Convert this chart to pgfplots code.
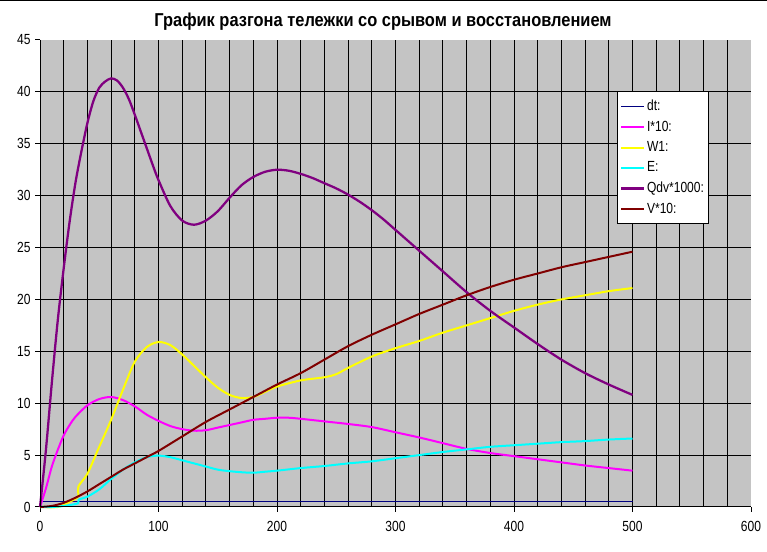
\documentclass[border=0pt]{standalone}
\usepackage{fontspec}
\setmainfont{Liberation Sans}
\newfontfamily\chartfont[FakeStretch=0.82]{Liberation Sans}
\newfontfamily\titlefont[FakeStretch=0.88]{Liberation Sans}
\usepackage{pgfplots}
\pgfplotsset{compat=1.18}
\definecolor{bg}{RGB}{196,196,196}
\definecolor{cdt}{RGB}{0,0,128}
\definecolor{ci}{RGB}{255,0,255}
\definecolor{cw}{RGB}{255,255,0}
\definecolor{ce}{RGB}{0,255,255}
\definecolor{cq}{RGB}{128,0,128}
\definecolor{cv}{RGB}{128,0,0}
\begin{document}
\begin{tikzpicture}
\useasboundingbox (0,0) rectangle (575.25pt,414pt);
\fill[black] (0,413pt) rectangle (575.25pt,414pt);
\node[font=\titlefont\bfseries\fontsize{14}{16}\selectfont] at (287.25pt,398pt) {График разгона тележки со срывом и восстановлением};
\begin{axis}[
  at={(30pt,33.75pt)}, anchor=south west,
  scale only axis, width=533.25pt, height=350.25pt,
  xmin=0, xmax=600, ymin=0, ymax=45,
  axis background/.style={fill=bg},
  axis line style={draw=none},
  xtick={0,100,...,600}, ytick={0,5,...,45},
  minor xtick={20,40,...,580}, minor ytick={5,10,...,40},
  minor grid style={black, line width=0.75pt},
  xminorgrids, yminorgrids,
  minor tick length=0pt,
  major tick length=3.5pt,
  tick align=outside,
  xtick pos=bottom, ytick pos=left,
  tick style={black, line width=0.75pt},
  ticklabel style={font=\chartfont\fontsize{11}{13}\selectfont},
  /pgf/number format/assume math mode=true,
  xticklabel style={yshift=-4pt},
  legend style={at={(0.8115,0.891)}, anchor=north west, draw=black, fill=white,
    line width=0.75pt,
    font=\chartfont\fontsize{11}{13}\selectfont,
    row sep=3.2pt, inner xsep=2pt, inner ysep=5pt,
    nodes={inner sep=1.5pt}},
  legend cell align=left,
  legend image code/.code={\draw[#1] (0pt,0pt) -- (17pt,0pt);},
  clip=false,
]
\addplot[cdt, line width=0.8pt] coordinates {(0,0.5) (500,0.5)};
\addlegendentry{dt:}
\addplot[ci, line width=1.5pt, smooth] coordinates {
(0,0) (5,1.8) (10,3.9) (15,5.5) (20,6.9) (25,7.9) (30,8.7) (40,9.8) (50,10.4) (60,10.6)
(70,10.3) (80,9.7) (90,8.9) (100,8.3) (110,7.8) (120,7.5) (130,7.35) (140,7.4) (150,7.65)
(160,7.9) (170,8.15) (180,8.4) (190,8.5) (200,8.6) (210,8.6) (220,8.5) (240,8.25) (260,8.0)
(280,7.7) (300,7.2) (320,6.7) (340,6.15) (360,5.6) (380,5.2) (400,4.9) (420,4.6) (440,4.3)
(460,4.0) (480,3.75) (500,3.5)};
\addlegendentry{I*10:}
\addplot[cw, line width=1.5pt, smooth] coordinates {
(0,0) (15,0) (25,0.5) (32,1.0) (32.5,2.0) (40,3.2) (50,5.8) (60,8.4) (70,11.3) (80,14.0)
(90,15.4) (100,15.9) (110,15.6) (120,14.7) (130,13.6) (140,12.5) (150,11.5) (160,10.8)
(170,10.5) (180,10.6) (190,11.1) (200,11.6) (220,12.2) (240,12.5) (250,12.8) (260,13.4)
(280,14.5) (300,15.3) (320,16.0) (340,16.8) (360,17.5) (380,18.2) (400,18.9) (420,19.5)
(440,20.0) (460,20.4) (480,20.8) (500,21.1)};
\addlegendentry{W1:}
\addplot[ce, line width=1.5pt, smooth] coordinates {
(0,0) (10,0) (20,0.1) (32,0.35) (32.5,0.7) (40,1.0) (50,1.7) (60,2.7) (70,3.6) (80,4.3)
(90,4.8) (100,4.95) (110,4.8) (120,4.5) (130,4.2) (140,3.9) (150,3.6) (160,3.45) (170,3.35)
(180,3.3) (190,3.4) (200,3.5) (220,3.75) (240,3.95) (260,4.2) (280,4.4) (300,4.7) (320,5.0)
(340,5.3) (360,5.55) (380,5.8) (400,5.95) (420,6.1) (440,6.25) (460,6.35) (480,6.5) (500,6.6)};
\addlegendentry{E:}
\addplot[cq, line width=1.7pt, smooth] coordinates {
(0,0) (5,5.5) (10,12) (15,18) (20,23) (25,27.5) (30,31.3) (35,34.3) (40,37.0) (45,39.1)
(50,40.4) (55,41.0) (60,41.3) (65,41.1) (70,40.4) (75,39.3) (80,37.8) (85,36.2) (90,34.6)
(95,33.0) (100,31.5) (110,29) (120,27.6) (130,27.2) (140,27.6) (150,28.5) (160,29.8)
(170,31) (180,31.8) (190,32.3) (200,32.5) (210,32.4) (220,32.1) (230,31.7) (240,31.2)
(250,30.7) (260,30.1) (270,29.4) (280,28.6) (290,27.7) (300,26.7) (320,24.7) (340,22.7)
(360,20.7) (380,18.9) (400,17.3) (420,15.7) (440,14.2) (460,12.9) (480,11.8) (500,10.8)};
\addlegendentry{Qdv*1000:}
\addplot[cv, line width=1.5pt, smooth] coordinates {
(0,0) (10,0.1) (20,0.4) (30,0.9) (40,1.5) (50,2.2) (60,2.9) (70,3.6) (80,4.2) (90,4.8)
(100,5.4) (120,6.8) (140,8.2) (160,9.4) (180,10.6) (200,11.8) (220,12.9) (240,14.2)
(260,15.5) (280,16.6) (300,17.6) (320,18.6) (340,19.5) (360,20.4) (380,21.2) (400,21.9)
(420,22.5) (440,23.1) (460,23.6) (480,24.1) (500,24.6)};
\addlegendentry{V*10:}
\draw[black, line width=0.75pt] (rel axis cs:0,1) -- (rel axis cs:0,0) -- (rel axis cs:1,0);
\end{axis}
\end{tikzpicture}
\end{document}
